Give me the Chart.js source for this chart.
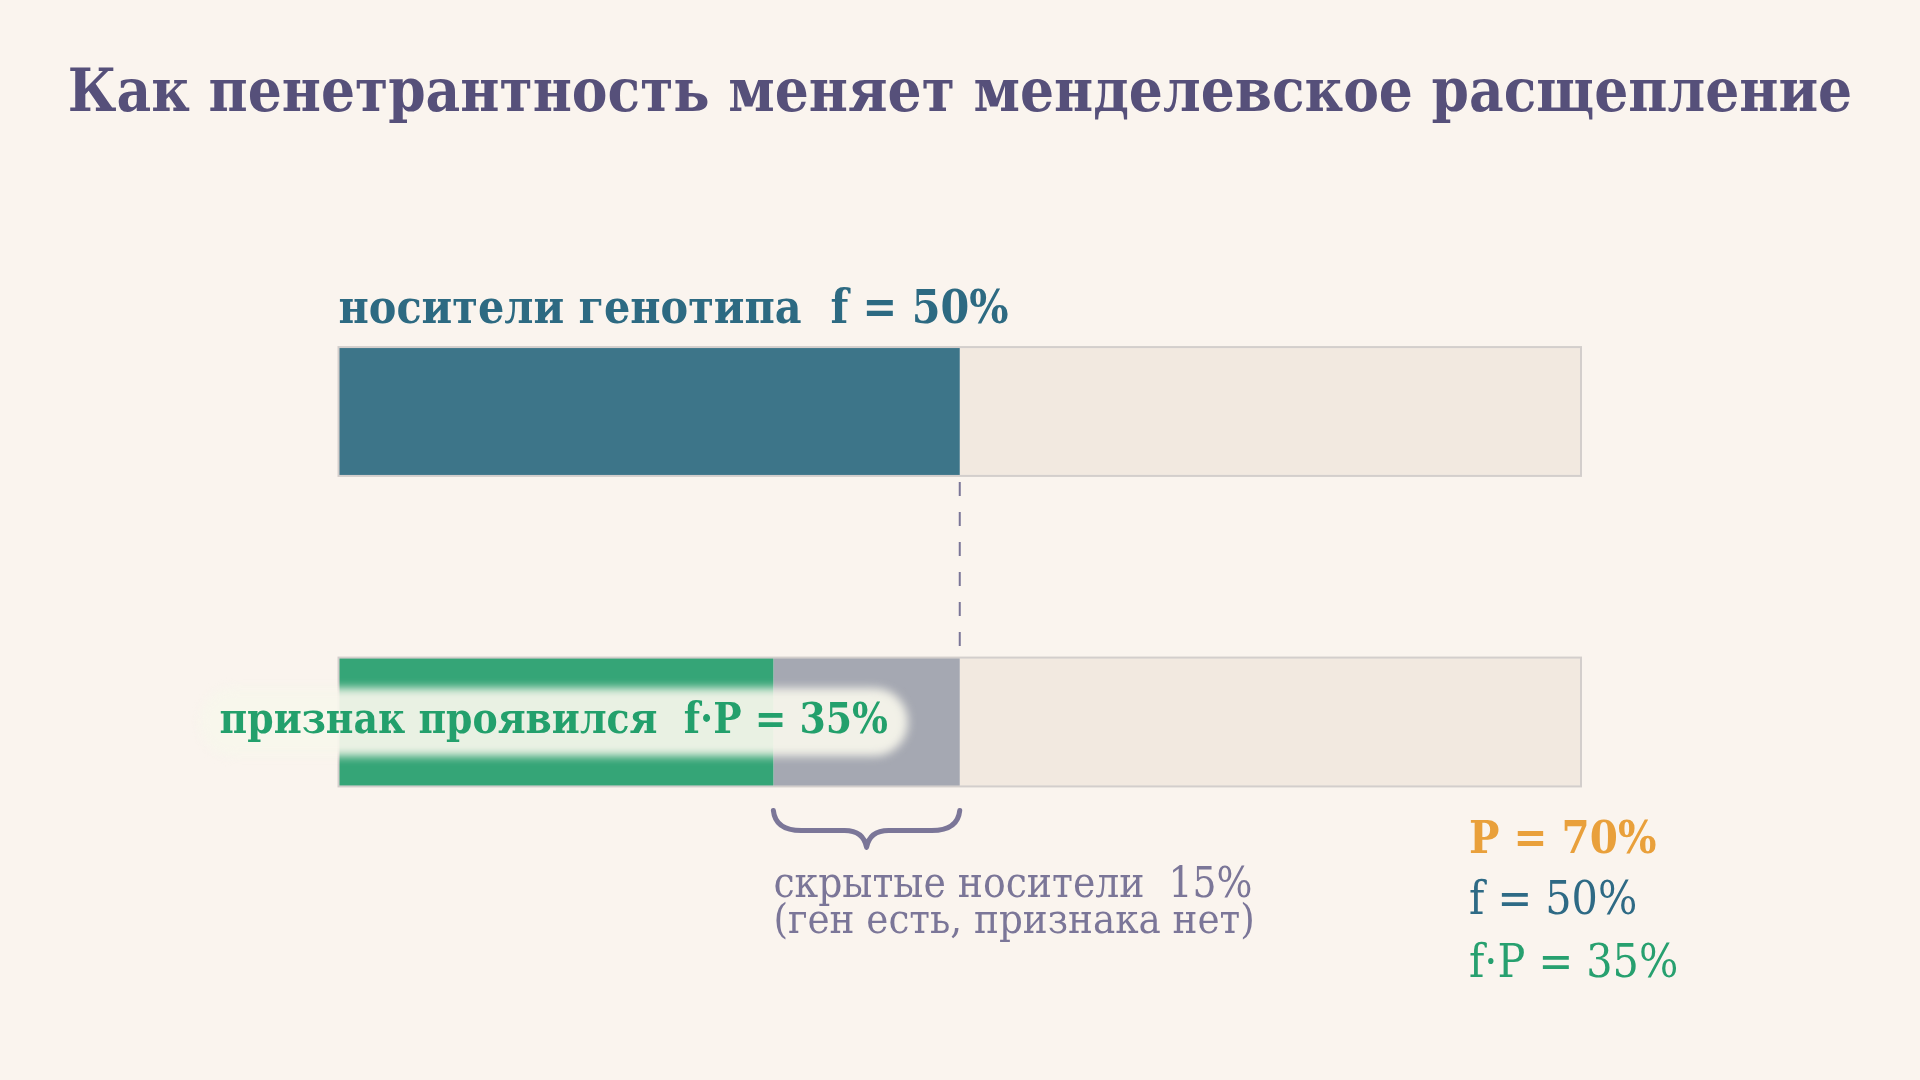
<!DOCTYPE html>
<html lang="ru">
<head>
<meta charset="utf-8">
<title>Пенетрантность и менделевское расщепление</title>
<script src="https://cdn.jsdelivr.net/npm/chart.js@4.4.1/dist/chart.umd.min.js"></script>
<style>
  html, body { margin: 0; padding: 0; background: #faf4ee; }
  #wrap { width: 1920px; height: 1080px; position: relative; }
</style>
</head>
<body>
<div id="wrap"><canvas id="penetranceChart"></canvas></div>
<script>
var categories = ["носители генотипа", "признак проявился"];
var shownValues = [50, 35];   // f, f·P
var hiddenValues = [0, 15];   // f - f·P
var restValues = [50, 50];
var penetrance = 70;
var frequency = 50;
var expressed = 35;
var hidden = 15;

var SERIF = "'DejaVu Serif Condensed', 'DejaVu Serif', serif";
var C_BLUE = "#3d7589", C_GREEN = "#35a577", C_GRAY = "#a5a8b2", C_TRACK = "#f2e9e0";
var C_PURPLE = "#7b7698";

var overlay = {
  id: "overlay",
  afterDatasetsDraw: function (chart) {
    var ctx = chart.ctx;
    var x = chart.scales.x;
    var topBar = chart.getDatasetMeta(0).data[0];
    var lowBar = chart.getDatasetMeta(0).data[1];
    var x0 = x.getPixelForValue(0), x100 = x.getPixelForValue(100);
    var xf = x.getPixelForValue(frequency);
    var xe = x.getPixelForValue(expressed);
    ctx.save();

    // outline of both tracks
    ctx.strokeStyle = "#d3cecc";
    ctx.lineWidth = 2;
    [topBar, lowBar].forEach(function (bar) {
      ctx.strokeRect(x0, bar.y - bar.height / 2, x100 - x0, bar.height);
    });

    // dashed guide at f
    ctx.strokeStyle = C_PURPLE;
    ctx.setLineDash([14, 16]);
    ctx.beginPath();
    ctx.moveTo(xf, topBar.y + topBar.height / 2 + 6);
    ctx.lineTo(xf, lowBar.y - lowBar.height / 2 - 6);
    ctx.stroke();
    ctx.setLineDash([]);

    // soft pill + label on the lower bar
    var label = "признак проявился  f·P = " + expressed + "%";
    ctx.font = "bold 42px " + SERIF;
    var w = ctx.measureText(label).width;
    var right = 888;
    ctx.save();
    ctx.filter = "blur(5px)";
    ctx.fillStyle = "rgba(247, 246, 236, 0.93)";
    ctx.beginPath();
    ctx.roundRect(right - w - 20, lowBar.y - 34, w + 40, 68, 34);
    ctx.fill();
    ctx.restore();
    ctx.fillStyle = "#23a06c";
    ctx.textAlign = "right";
    ctx.textBaseline = "alphabetic";
    ctx.fillText(label, right, lowBar.y + 11);

    // brace under the hidden carriers
    var yTop = lowBar.y + lowBar.height / 2 + 24, yMid = yTop + 20, yTip = yTop + 37;
    var xm = (xe + xf) / 2;
    ctx.beginPath();
    ctx.moveTo(xe, yTop);
    ctx.quadraticCurveTo(xe + 2, yMid, xe + 28, yMid);
    ctx.lineTo(xm - 22, yMid);
    ctx.quadraticCurveTo(xm - 3, yMid, xm, yTip);
    ctx.quadraticCurveTo(xm + 3, yMid, xm + 22, yMid);
    ctx.lineTo(xf - 28, yMid);
    ctx.quadraticCurveTo(xf - 2, yMid, xf, yTop);
    ctx.lineWidth = 5;
    ctx.lineJoin = "round";
    ctx.lineCap = "round";
    ctx.strokeStyle = C_PURPLE;
    ctx.stroke();

    // texts
    ctx.textAlign = "center";
    ctx.fillStyle = "#56507a";
    ctx.font = "bold 59.5px " + SERIF;
    ctx.fillText("Как пенетрантность меняет менделевское расщепление", chart.width / 2, 111);

    ctx.textAlign = "left";
    ctx.fillStyle = "#2d6a82";
    ctx.font = "bold 46px " + SERIF;
    ctx.fillText(categories[0] + "  f = " + frequency + "%", x0, topBar.y - topBar.height / 2 - 24);

    ctx.fillStyle = C_PURPLE;
    ctx.font = "42px " + SERIF;
    ctx.fillText("скрытые носители  " + hidden + "%", xe, yTop + 87);
    ctx.font = "41.5px " + SERIF;
    ctx.fillText("(ген есть, признака нет)", xe, yTop + 123);

    var lx = chart.width - 451;
    ctx.font = "bold 45px " + SERIF;
    ctx.fillStyle = "#e9a03b";
    ctx.fillText("P = " + penetrance + "%", lx, 853);
    ctx.font = "46px " + SERIF;
    ctx.fillStyle = "#2e6a85";
    ctx.fillText("f = " + frequency + "%", lx, 914);
    ctx.fillStyle = "#27a06f";
    ctx.fillText("f·P = " + expressed + "%", lx, 977);
    ctx.restore();
  }
};

var ctx = document.getElementById("penetranceChart").getContext("2d");
var myChart = new Chart(ctx, {
  type: "bar",
  data: {
    labels: categories,
    datasets: [
      { label: "проявили", data: shownValues, backgroundColor: [C_BLUE, C_GREEN] },
      { label: "скрытые", data: hiddenValues, backgroundColor: C_GRAY },
      { label: "остальные", data: restValues, backgroundColor: C_TRACK }
    ]
  },
  options: {
    indexAxis: "y",
    responsive: true,
    maintainAspectRatio: false,
    animation: false,
    categoryPercentage: 1,
    barPercentage: 0.415,
    layout: { padding: { left: 338.5, right: 339, top: 256.25, bottom: 202.75 } },
    plugins: { legend: { display: false }, tooltip: { enabled: false }, title: { display: false } },
    scales: {
      x: { stacked: true, min: 0, max: 100, display: false },
      y: { stacked: true, display: false }
    }
  },
  plugins: [overlay]
});
</script>
</body>
</html>
